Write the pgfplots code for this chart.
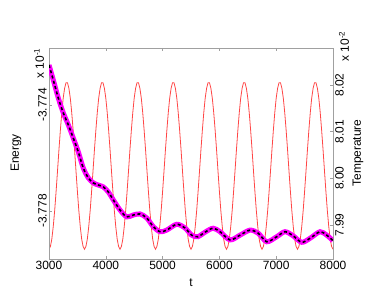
\documentclass[border=0pt]{standalone}
\usepackage{pgfplots}
\pgfplotsset{compat=1.18}
\usepackage{fontspec}
\setmainfont{Liberation Sans}
\definecolor{tred}{RGB}{255,70,70}
\definecolor{emag}{RGB}{255,0,255}
\definecolor{axgray}{RGB}{160,160,160}
\newcommand{\fs}{\fontsize{12}{14}\selectfont}
\begin{document}
\begin{tikzpicture}[x=1bp,y=1bp]
\useasboundingbox (0,0) rectangle (382,306);
% Temperature (right axis)
\begin{axis}[
  at={(49bp,47bp)}, anchor=south west, scale only axis,
  width=284bp, height=211bp,
  xmin=3000, xmax=8000, ymin=7.98271, ymax=8.02793,
  axis x line=none, axis y line*=right,
  axis line style={axgray, line width=0.6bp},
  ytick={7.99,8.00,8.01,8.02},
  yticklabels={7.99,8.00,8.01,8.02},
  major tick length=3bp,
  every tick/.style={axgray, line width=0.6bp},
  tick align=inside,
  yticklabel style={rotate=90, anchor=north, font=\fs, inner sep=2bp},
  clip=true,
]
\addplot[tred, line width=0.8bp] table {
t T
3000 7.9848
3025 7.9854
3050 7.9870
3075 7.9897
3100 7.9931
3125 7.9972
3150 8.0016
3175 8.0061
3200 8.0103
3225 8.0141
3250 8.0172
3275 8.0193
3300 8.0205
3325 8.0205
3350 8.0193
3375 8.0172
3400 8.0141
3425 8.0103
3450 8.0061
3475 8.0016
3500 7.9972
3525 7.9931
3550 7.9897
3575 7.9870
3600 7.9854
3625 7.9848
3650 7.9854
3675 7.9870
3700 7.9897
3725 7.9931
3750 7.9972
3775 8.0016
3800 8.0061
3825 8.0103
3850 8.0141
3875 8.0172
3900 8.0193
3925 8.0205
3950 8.0205
3975 8.0193
4000 8.0172
4025 8.0141
4050 8.0103
4075 8.0061
4100 8.0016
4125 7.9972
4150 7.9931
4175 7.9897
4200 7.9870
4225 7.9854
4250 7.9848
4275 7.9854
4300 7.9870
4325 7.9897
4350 7.9931
4375 7.9972
4400 8.0016
4425 8.0061
4450 8.0103
4475 8.0141
4500 8.0172
4525 8.0193
4550 8.0205
4575 8.0205
4600 8.0193
4625 8.0172
4650 8.0141
4675 8.0103
4700 8.0061
4725 8.0016
4750 7.9972
4775 7.9931
4800 7.9897
4825 7.9870
4850 7.9854
4875 7.9848
4900 7.9854
4925 7.9870
4950 7.9897
4975 7.9931
5000 7.9972
5025 8.0016
5050 8.0061
5075 8.0103
5100 8.0141
5125 8.0172
5150 8.0193
5175 8.0205
5200 8.0205
5225 8.0193
5250 8.0172
5275 8.0141
5300 8.0103
5325 8.0061
5350 8.0016
5375 7.9972
5400 7.9931
5425 7.9897
5450 7.9870
5475 7.9854
5500 7.9848
5525 7.9854
5550 7.9870
5575 7.9897
5600 7.9931
5625 7.9972
5650 8.0016
5675 8.0061
5700 8.0103
5725 8.0141
5750 8.0172
5775 8.0193
5800 8.0205
5825 8.0205
5850 8.0193
5875 8.0172
5900 8.0141
5925 8.0103
5950 8.0061
5975 8.0016
6000 7.9972
6025 7.9931
6050 7.9897
6075 7.9870
6100 7.9854
6125 7.9848
6150 7.9854
6175 7.9870
6200 7.9897
6225 7.9931
6250 7.9972
6275 8.0016
6300 8.0061
6325 8.0103
6350 8.0141
6375 8.0172
6400 8.0193
6425 8.0205
6450 8.0205
6475 8.0193
6500 8.0172
6525 8.0141
6550 8.0103
6575 8.0061
6600 8.0016
6625 7.9972
6650 7.9931
6675 7.9897
6700 7.9870
6725 7.9854
6750 7.9848
6775 7.9854
6800 7.9870
6825 7.9897
6850 7.9931
6875 7.9972
6900 8.0016
6925 8.0061
6950 8.0103
6975 8.0141
7000 8.0172
7025 8.0193
7050 8.0205
7075 8.0205
7100 8.0193
7125 8.0172
7150 8.0141
7175 8.0103
7200 8.0061
7225 8.0016
7250 7.9972
7275 7.9931
7300 7.9897
7325 7.9870
7350 7.9854
7375 7.9848
7400 7.9854
7425 7.9870
7450 7.9897
7475 7.9931
7500 7.9972
7525 8.0016
7550 8.0061
7575 8.0103
7600 8.0141
7625 8.0172
7650 8.0193
7675 8.0205
7700 8.0205
7725 8.0193
7750 8.0172
7775 8.0141
7800 8.0103
7825 8.0061
7850 8.0016
7875 7.9972
7900 7.9931
7925 7.9897
7950 7.9870
7975 7.9854
8000 7.9848
};
\end{axis}
% Energy (left axis)
\begin{axis}[
  at={(49bp,47bp)}, anchor=south west, scale only axis,
  width=284bp, height=211bp,
  xmin=3000, xmax=8000, ymin=-3.77981, ymax=-3.77185,
  axis line style={axgray, line width=0.6bp},
  xtick={3000,4000,5000,6000,7000,8000},
  xticklabels={3000,4000,5000,6000,7000,8000},
  ytick={-3.778,-3.774},
  yticklabels={-3.778,-3.774},
  xtick pos=both, ytick pos=left,
  major tick length=3bp,
  every tick/.style={axgray, line width=0.6bp},
  tick align=inside,
  xticklabel style={font=\fs, inner sep=2bp},
  yticklabel style={rotate=90, anchor=south, font=\fs, inner sep=2bp},
  clip=true,
]
\addplot[emag, line width=5bp, smooth, tension=0.5] table {
t E
3000 -3.77249
3076 -3.77306
3164 -3.77374
3252 -3.77430
3340 -3.77475
3428 -3.77525
3516 -3.77577
3604 -3.77638
3692 -3.77675
3780 -3.77694
3868 -3.77702
3956 -3.77709
4044 -3.77728
4132 -3.77758
4250 -3.77796
4368 -3.77822
4484 -3.77815
4602 -3.77811
4720 -3.77826
4836 -3.77859
4954 -3.77878
5072 -3.77872
5248 -3.77850
5394 -3.77864
5512 -3.77891
5620 -3.77897
5760 -3.77878
5890 -3.77865
6011 -3.77878
6187 -3.77909
6363 -3.77891
6539 -3.77872
6685 -3.77884
6833 -3.77916
7009 -3.77897
7155 -3.77878
7301 -3.77894
7449 -3.77918
7595 -3.77903
7771 -3.77878
7889 -3.77891
8000 -3.77912
};
\addplot[black, line width=1.6bp, dash pattern=on 3bp off 2.5bp, smooth, tension=0.5] table {
t E
3000 -3.77249
3076 -3.77306
3164 -3.77374
3252 -3.77430
3340 -3.77475
3428 -3.77525
3516 -3.77577
3604 -3.77638
3692 -3.77675
3780 -3.77694
3868 -3.77702
3956 -3.77709
4044 -3.77728
4132 -3.77758
4250 -3.77796
4368 -3.77822
4484 -3.77815
4602 -3.77811
4720 -3.77826
4836 -3.77859
4954 -3.77878
5072 -3.77872
5248 -3.77850
5394 -3.77864
5512 -3.77891
5620 -3.77897
5760 -3.77878
5890 -3.77865
6011 -3.77878
6187 -3.77909
6363 -3.77891
6539 -3.77872
6685 -3.77884
6833 -3.77916
7009 -3.77897
7155 -3.77878
7301 -3.77894
7449 -3.77918
7595 -3.77903
7771 -3.77878
7889 -3.77891
8000 -3.77912
};
\end{axis}
\node[font=\fs, rotate=90] at (16,153) {Energy};
\node[font=\fs, rotate=90] at (358,153) {Temperature};
\node[font=\fs] at (191,23) {t};
\node[font=\fs, rotate=90, anchor=east, inner sep=0pt] at (39,258) {x 10\textsuperscript{-1}};
\node[font=\fs, rotate=90, anchor=east, inner sep=0pt] at (344,275) {x 10\textsuperscript{-2}};
\end{tikzpicture}
\end{document}
